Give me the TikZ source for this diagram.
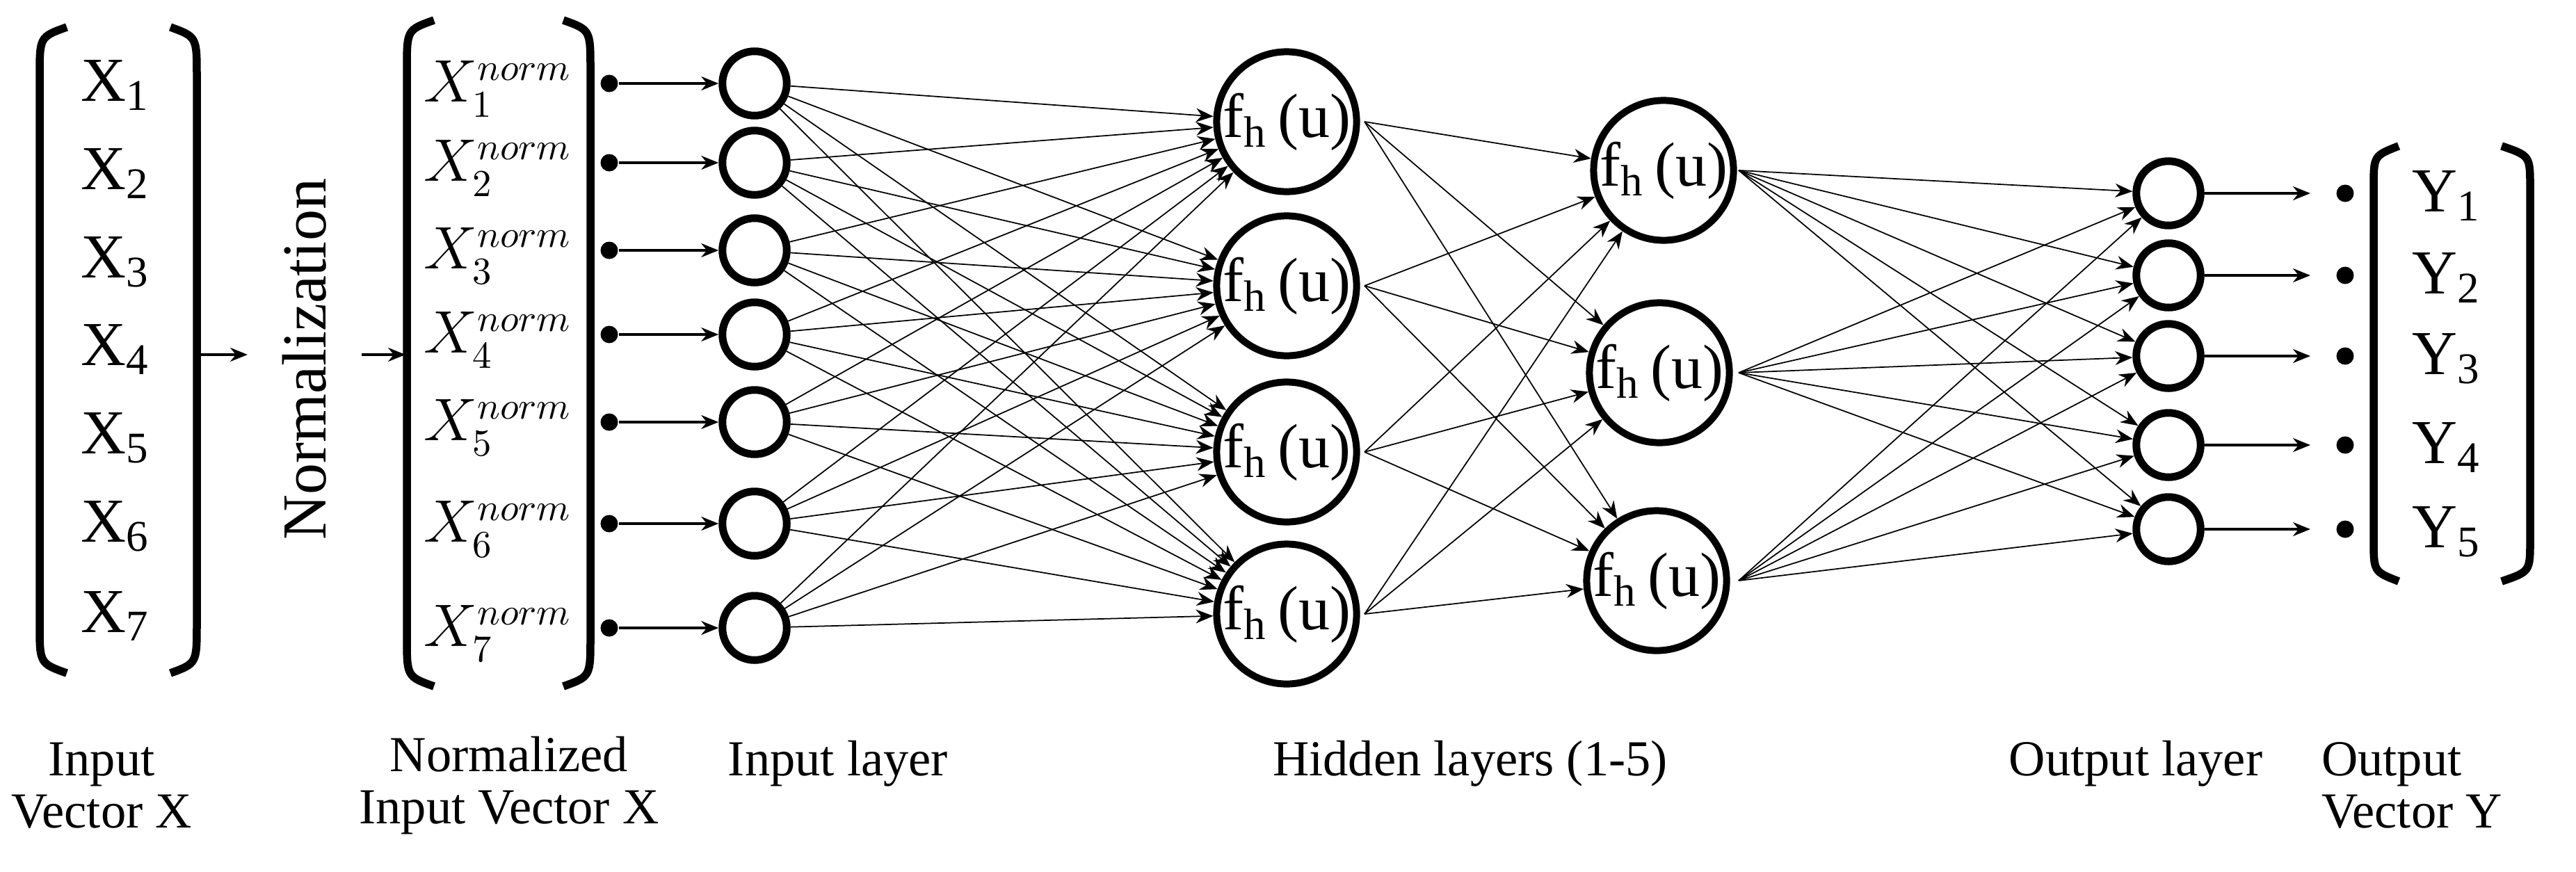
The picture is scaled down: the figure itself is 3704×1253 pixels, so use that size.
\documentclass[tikz,border=0pt]{standalone}
\usepackage{fontspec}
\setmainfont{Liberation Serif}
\usetikzlibrary{arrows.meta}
\begin{document}
\begin{tikzpicture}[x=0.2pt,y=-0.2pt,
  inn/.style={circle,draw,line width=2.2pt,minimum size=18.5pt,inner sep=0pt},
  hid/.style={circle,draw,line width=2pt,minimum size=38pt,inner sep=0pt,font=\fontsize{18}{22}\selectfont},
  edge/.style={line width=0.35pt,-{Stealth[length=5pt,width=4pt]}},
  arr/.style={line width=0.7pt,-{Stealth[length=5pt,width=4pt]}},
  brk/.style={line width=2.3pt},
  lbl/.style={font=\fontsize{18}{22}\selectfont},
  nlbl/.style={font=\fontsize{16}{20}\selectfont},
  capt/.style={font=\fontsize{14.5}{15}\selectfont,align=center},
  dot/.style={circle,fill,inner sep=0pt,minimum size=5pt}]
\useasboundingbox (0,0) rectangle (3704,1253);
% brackets
\draw[brk] (96,39) .. controls (57,53) .. (57,110) -- (57,897) .. controls (57,954) .. (96,968);
\draw[brk] (245,39) .. controls (283,53) .. (283,110) -- (283,897) .. controls (283,954) .. (245,968);
\draw[brk] (624,29) .. controls (585,43) .. (585,100) -- (585,916) .. controls (585,973) .. (624,987);
\draw[brk] (810,29) .. controls (849,43) .. (849,100) -- (849,916) .. controls (849,973) .. (810,987);
\draw[brk] (3449,210) .. controls (3413,224) .. (3413,270) -- (3413,776) .. controls (3413,822) .. (3449,836);
\draw[brk] (3597,210) .. controls (3638,224) .. (3638,270) -- (3638,776) .. controls (3638,822) .. (3597,836);
% X labels
\foreach \i/\y in {1/123,2/250,3/377,4/503,5/630,6/757,7/886}
  \node[lbl] (x\i) at (166,\y) {X\textsubscript{\i}};
\coordinate (a1s) at (287,510); \coordinate (a1e) at (356,510);
\draw[arr] (a1s) -- (a1e);
\node[lbl,rotate=90] (norm) at (438,517) {Normalization};
\coordinate (a2s) at (520,510); \coordinate (a2e) at (583,510);
\draw[arr] (a2s) -- (a2e);
% normalized labels, dots, input layer
\foreach \i/\y in {1/120,2/234,3/360,4/481,5/607,6/753,7/903}{
  \node[nlbl] (xn\i) at (716,\y+8) {$X_{\i}^{norm}$};
  \node[dot] (d\i) at (876,\y) {};
  \node[inn] (in\i) at (1085,\y) {};
  \draw[arr] (d\i) -- (in\i);
}
% hidden layer 1
\foreach \i/\y in {1/175,2/411,3/650,4/883}{
  \node[hid] (h\i) at (1850,\y) {f\textsubscript{h}\,(u)};
  \coordinate (ho\i) at (1962,\y);
}
% hidden layer 2
\foreach \i/\x/\y in {1/2392/245,2/2386/536,3/2382/835}{
  \node[hid] (g\i) at (\x,\y) {f\textsubscript{h}\,(u)};
  \coordinate (go\i) at (2500,\y);
}
% output layer
\foreach \i/\y in {1/278,2/396,3/512,4/640,5/761}{
  \node[inn] (o\i) at (3118,\y) {};
  \node[dot] (od\i) at (3372,\y) {};
  \coordinate (oe\i) at (3322,\y);
  \draw[arr] (o\i) -- (oe\i);
  \node[lbl] (y\i) at (3518,\y+4) {Y\textsubscript{\i}};
}
% connections
\foreach \a in {1,...,7} \foreach \b in {1,...,4} \draw[edge] (in\a) -- (h\b);
\foreach \a in {1,...,4} \foreach \b in {1,...,3} \draw[edge] (ho\a) -- (g\b);
\foreach \a in {1,...,3} \foreach \b in {1,...,5} \draw[edge] (go\a) -- (o\b);
% captions
\node[capt] (c1) at (146,1130) {Input\\Vector X};
\node[capt] (c2) at (732,1130) {Normalized\\Input Vector X};
\node[capt] (c3) at (1205,1098) {Input layer};
\node[capt] (c4) at (2114,1098) {Hidden layers (1-5)};
\node[capt] (c5) at (3071,1098) {Output layer};
\node[capt,align=left] (c6) at (3468,1130) {Output\\Vector Y};
\end{tikzpicture}
\end{document}
